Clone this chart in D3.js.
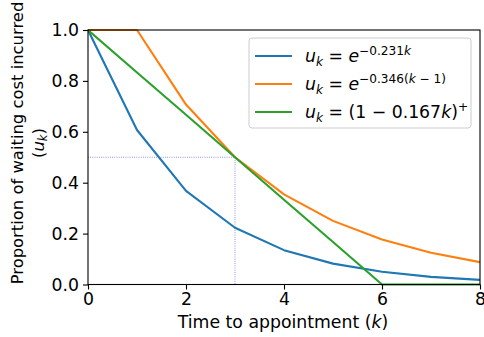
<!DOCTYPE html>
<html lang="en">
<head>
<meta charset="UTF-8">
<title>Waiting cost</title>
<style>
  body { margin: 0; background: #fff; }
  text { font-family: "DejaVu Sans", sans-serif; fill: #000; }
</style>
</head>
<body>
<script src="https://d3js.org/d3.v7.min.js"></script>
<script>
// data
var kValues = [0, 1, 2, 3, 4, 5, 6, 7, 8];
var blueValues = [1, 0.607, 0.368, 0.223, 0.135, 0.082, 0.050, 0.030, 0.018];
var orangeValues = [1, 1, 0.707, 0.5, 0.354, 0.25, 0.177, 0.125, 0.088];
var greenValues = [1, 0.833, 0.667, 0.5, 0.333, 0.167, 0, 0, 0];
var xTicks = [0, 2, 4, 6, 8];
var yTicks = [0, 0.2, 0.4, 0.6, 0.8, 1.0];
var guide = { k: 3, u: 0.5 };

var width = 484, height = 337;
var m = { left: 88, right: 480, top: 30, bottom: 284.5 };
var fs = 17.3;
var yfs = 16.4;

var svg = d3.select('body').append('svg').attr('width', width).attr('height', height);

var x = d3.scaleLinear().domain([0, 8]).range([m.left, m.right]);
var y = d3.scaleLinear().domain([0, 1]).range([m.bottom, m.top]);

// dotted guide lines
svg.append('path')
    .attr('d', 'M' + x(0) + ',' + y(guide.u) + 'H' + x(guide.k) + 'V' + y(0))
    .attr('fill', 'none')
    .attr('stroke', '#2222cc')
    .attr('stroke-opacity', 0.75)
    .attr('stroke-width', 0.8)
    .attr('stroke-dasharray', '0.8,1.4');

var series = [
    { values: blueValues, color: '#1f77b4' },
    { values: orangeValues, color: '#ff7f0e' },
    { values: greenValues, color: '#2ca02c' }
];

var line = d3.line().x(function (d, i) { return x(kValues[i]); }).y(function (d) { return y(d); });

svg.append('defs').append('clipPath').attr('id', 'clip')
    .append('rect').attr('x', m.left).attr('y', m.top - 1.5).attr('width', m.right - m.left).attr('height', m.bottom - m.top + 3);

svg.selectAll('path.series').data(series).enter().append('path')
    .attr('class', 'series')
    .attr('clip-path', 'url(#clip)')
    .attr('d', function (d) { return line(d.values); })
    .attr('fill', 'none')
    .attr('stroke', function (d) { return d.color; })
    .attr('stroke-width', 2.1)
    .attr('stroke-linejoin', 'round');

// axes
var xAxis = d3.axisBottom(x).tickValues(xTicks).tickFormat(d3.format('d')).tickSize(5).tickPadding(3);
var yAxis = d3.axisLeft(y).tickValues(yTicks).tickFormat(d3.format('.1f')).tickSize(5).tickPadding(4);

var gx = svg.append('g').attr('transform', 'translate(0,' + m.bottom + ')').call(xAxis);
var gy = svg.append('g').attr('transform', 'translate(' + m.left + ',0)').call(yAxis);
[gx, gy].forEach(function (g) {
    g.select('.domain').remove();
    g.selectAll('line').attr('stroke', '#000').attr('stroke-width', 1.1);
    g.selectAll('text').attr('font-size', fs).attr('font-family', '"DejaVu Sans"').attr('fill', '#000');
});

// frame
svg.append('rect')
    .attr('x', m.left).attr('y', m.top).attr('width', m.right - m.left).attr('height', m.bottom - m.top)
    .attr('fill', 'none').attr('stroke', '#000').attr('stroke-width', 1.1);

// axis labels
var xl = svg.append('text').attr('x', (m.left + m.right) / 2 - 1).attr('y', 328)
    .attr('text-anchor', 'middle').attr('font-size', fs);
xl.append('tspan').text('Time to appointment (');
xl.append('tspan').attr('font-style', 'italic').text('k');
xl.append('tspan').text(')');

var yl = svg.append('text').attr('transform', 'translate(23,143) rotate(-90)')
    .attr('text-anchor', 'middle').attr('font-size', yfs);
yl.append('tspan').attr('x', 0).attr('y', 0).text('Proportion of waiting cost incurred');
var yl2 = svg.append('text').attr('transform', 'translate(44,143) rotate(-90)')
    .attr('text-anchor', 'middle').attr('font-size', yfs);
yl2.append('tspan').text('(');
yl2.append('tspan').attr('font-style', 'italic').text('u');
yl2.append('tspan').attr('font-style', 'italic').attr('font-size', yfs * 0.7).attr('dy', 3).text('k');
yl2.append('tspan').attr('dy', -3).text(')');

// legend
var lg = svg.append('g');
lg.append('rect')
    .attr('x', 249).attr('y', 38).attr('width', 222).attr('height', 90)
    .attr('rx', 3).attr('fill', '#fff').attr('fill-opacity', 0.8)
    .attr('stroke', '#cccccc').attr('stroke-width', 1);

var legendRows = [
    { color: '#1f77b4', sup: [['−0.231', false], ['k', true]], kind: 'exp' },
    { color: '#ff7f0e', sup: [['−0.346(', false], ['k', true], [' − 1)', false]], kind: 'exp' },
    { color: '#2ca02c', kind: 'lin' }
];

legendRows.forEach(function (r, i) {
    var yy = 56 + i * 28;
    lg.append('line').attr('x1', 255).attr('x2', 292).attr('y1', yy).attr('y2', yy)
        .attr('stroke', r.color).attr('stroke-width', 2.1);
    var t = lg.append('text').attr('x', 305).attr('y', yy + 6).attr('font-size', fs);
    t.append('tspan').attr('font-style', 'italic').text('u');
    t.append('tspan').attr('font-style', 'italic').attr('font-size', fs * 0.7).attr('dy', 3.5).text('k');
    if (r.kind === 'exp') {
        t.append('tspan').attr('dy', -3.5).text(' = ');
        t.append('tspan').attr('font-style', 'italic').text('e');
        r.sup.forEach(function (s, j) {
            var sp = t.append('tspan').attr('font-size', fs * 0.7).text(s[0]);
            if (s[1]) sp.attr('font-style', 'italic');
            if (j === 0) sp.attr('dy', -7);
        });
    } else {
        t.append('tspan').attr('dy', -3.5).text(' = (1 − 0.167');
        t.append('tspan').attr('font-style', 'italic').text('k');
        t.append('tspan').text(')');
        t.append('tspan').attr('font-size', fs * 0.7).attr('dy', -7).text('+');
    }
});
</script>
</body>
</html>
